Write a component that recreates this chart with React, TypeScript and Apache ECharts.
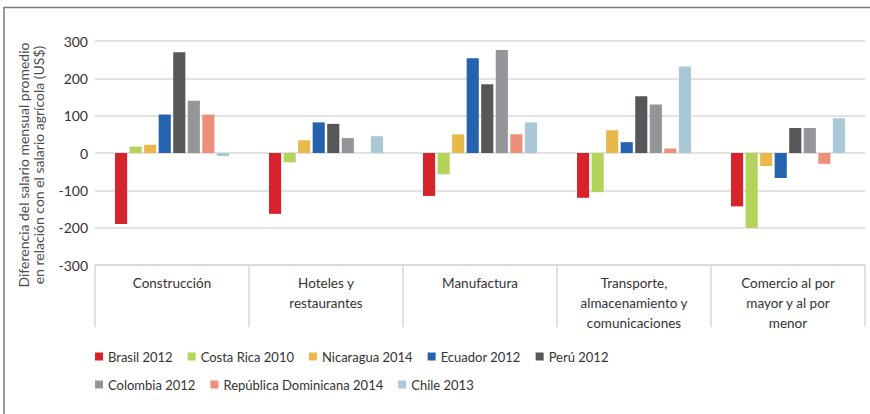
import React, { useEffect, useRef } from "react";
import * as echarts from "echarts";

const categories = [
  "Construcción",
  "Hoteles y\nrestaurantes",
  "Manufactura",
  "Transporte,\nalmacenamiento y\ncomunicaciones",
  "Comercio al por\nmayor y al por\nmenor",
];

const seriesNames = [
  "Brasil 2012",
  "Costa Rica 2010",
  "Nicaragua 2014",
  "Ecuador 2012",
  "Perú 2012",
  "Colombia 2012",
  "República Dominicana 2014",
  "Chile 2013",
];

const brasil = [-190, -163, -115, -120, -143];
const costaRica = [17, -25, -57, -105, -201];
const nicaragua = [22, 34, 50, 61, -35];
const ecuador = [103, 82, 254, 29, -67];
const peru = [270, 78, 184, 152, 67];
const colombia = [140, 40, 276, 130, 67];
const repDominicana = [103, null, 50, 12, -29];
const chile = [-8, 45, 82, 232, 93];

const seriesValues = [brasil, costaRica, nicaragua, ecuador, peru, colombia, repDominicana, chile];

const colors = ["#d7232b", "#b3d35a", "#e8b84b", "#2563ae", "#555759", "#939598", "#ec9079", "#aac8d5"];

const yTicks = { min: -300, max: 300, interval: 100 };

const FONT = "Lato, 'Noto Sans', sans-serif";

export default function App() {
  const ref = useRef<HTMLDivElement>(null);
  useEffect(() => {
    if (!ref.current) return;
    const chart = echarts.init(ref.current, null, { renderer: "svg" });
    const legendText = { fontSize: 13, color: "#333333", fontFamily: FONT };
    chart.setOption({
      animation: false,
      backgroundColor: "#ffffff",
      textStyle: { fontFamily: FONT },
      grid: { left: 95, right: 5, top: 41, bottom: 149, containLabel: false },
      legend: [
        {
          data: seriesNames.slice(0, 5),
          left: 90,
          top: 345,
          icon: "rect",
          itemWidth: 8,
          itemHeight: 8,
          itemGap: 15,
          itemStyle: { borderWidth: 0 },
          textStyle: legendText,
        },
        {
          data: seriesNames.slice(5),
          left: 90,
          top: 373,
          icon: "rect",
          itemWidth: 8,
          itemHeight: 8,
          itemGap: 15,
          itemStyle: { borderWidth: 0 },
          textStyle: legendText,
        },
      ],
      xAxis: {
        type: "category",
        data: categories,
        position: "bottom",
        axisLine: { show: true, onZero: false, lineStyle: { color: "#d9d9d9", width: 1.5 } },
        axisTick: { show: true, length: 62, interval: 0, lineStyle: { color: "#d9d9d9", width: 1.5 } },
        axisLabel: {
          interval: 0,
          margin: 8,
          fontSize: 13.5,
          lineHeight: 20,
          color: "#333333",
          fontFamily: FONT,
          verticalAlign: "top",
        },
      },
      yAxis: {
        type: "value",
        min: yTicks.min,
        max: yTicks.max,
        interval: yTicks.interval,
        axisLine: { show: false },
        axisTick: { show: false },
        axisLabel: { fontSize: 14, color: "#333333", margin: 7, fontFamily: FONT },
        splitLine: { lineStyle: { color: "#d9d9d9", width: 1.5 } },
      },
      graphic: [
        {
          type: "rect",
          shape: { x: 4, y: 7.5, width: 900, height: 450 },
          style: { fill: "none", stroke: "#7a7a7a", lineWidth: 1.5 },
          silent: true,
        },
        {
          type: "text",
          x: 31,
          y: 165,
          rotation: Math.PI / 2,
          style: {
            text: "Diferencia del salario mensual promedio\nen relación con el salario agrícola (US$)",
            fontSize: 14,
            lineHeight: 15,
            fontFamily: FONT,
            fill: "#4d4d4d",
            align: "center",
            verticalAlign: "middle",
          },
        },
      ],
      series: seriesNames.map((name, i) => ({
        name,
        type: "bar",
        data: seriesValues[i],
        itemStyle: { color: colors[i] },
        barGap: "20%",
        barCategoryGap: "26%",
      })),
    });
    return () => chart.dispose();
  }, []);
  return (
    <div
      ref={ref}
      style={{ position: "absolute", left: 0, top: 0, width: 870, height: 414 }}
    />
  );
}
